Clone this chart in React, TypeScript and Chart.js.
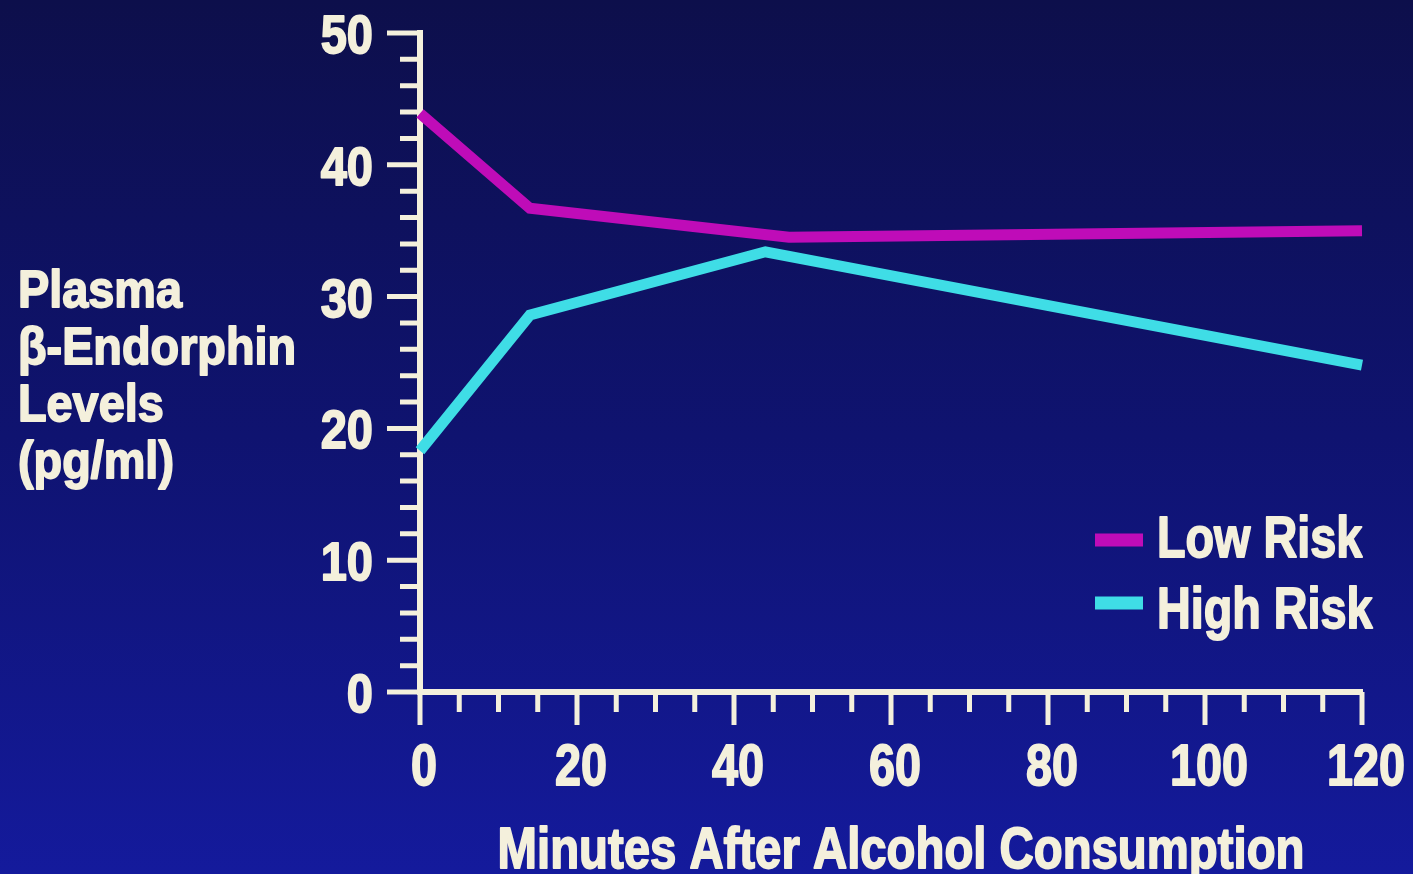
import { useEffect, useRef } from "react";
import { Chart, registerables } from "chart.js";

Chart.register(...registerables);

// Sampling times (minutes) and plasma β-endorphin levels (pg/ml)
const lowRiskMinutes = [0, 14, 47, 120];
const lowRiskLevels = [43.9, 36.7, 34.5, 35.0];
const highRiskMinutes = [0, 14, 44, 120];
const highRiskLevels = [18.3, 28.6, 33.4, 24.8];

const seriesLabels = ["Low Risk", "High Risk"];
const seriesColors = ["#bf0cb8", "#3fdde6"];

const yTitleLines = ["Plasma", "β-Endorphin", "Levels", "(pg/ml)"];
const xTitle = "Minutes After Alcohol Consumption";

const xMin = 0;
const xMax = 120;
const xMinorStep = 5;
const xMajorStep = 20;
const yMin = 0;
const yMax = 50;
const yMinorStep = 2;
const yMajorStep = 10;

const INK = "#f4f0dc";
const FONT = "'Liberation Sans', Arial, sans-serif";

const toPoints = (xs: number[], ys: number[]) => xs.map((x, i) => ({ x, y: ys[i] }));

// Heavy bold text squeezed horizontally, like a condensed black sans face
function condensedText(
  ctx: CanvasRenderingContext2D,
  text: string,
  x: number,
  y: number,
  size: number,
  squeeze: number,
  align: CanvasTextAlign,
  baseline: CanvasTextBaseline = "alphabetic"
) {
  ctx.save();
  ctx.font = `bold ${size}px ${FONT}`;
  ctx.fillStyle = INK;
  ctx.strokeStyle = INK;
  ctx.lineWidth = 1.8;
  ctx.lineJoin = "round";
  ctx.textAlign = align;
  ctx.textBaseline = baseline;
  ctx.translate(x, y);
  ctx.scale(squeeze, 1);
  ctx.fillText(text, 0, 0);
  ctx.strokeText(text, 0, 0);
  ctx.restore();
}

// Tick marks (short minor, long major) and the numeric labels of both axes
const axisDecor = {
  id: "axisDecor",
  beforeDatasetsDraw(chart: any) {
    const { ctx } = chart;
    const xs = chart.scales.x;
    const ys = chart.scales.y;
    ctx.save();
    ctx.strokeStyle = INK;
    ctx.lineWidth = 5;
    ctx.lineCap = "butt";
    ctx.beginPath();
    xs.ticks.forEach((t: any) => {
      const px = xs.getPixelForValue(t.value);
      const len = t.value % xMajorStep === 0 ? 33 : 20;
      ctx.moveTo(px, xs.top);
      ctx.lineTo(px, xs.top + len);
    });
    ys.ticks.forEach((t: any) => {
      const py = ys.getPixelForValue(t.value);
      const len = t.value % yMajorStep === 0 ? 33 : 20;
      ctx.moveTo(ys.right, py);
      ctx.lineTo(ys.right - len, py);
    });
    ctx.stroke();
    ctx.restore();

    xs.ticks.forEach((t: any) => {
      if (t.value % xMajorStep !== 0) return;
      const px = xs.getPixelForValue(t.value);
      condensedText(ctx, String(t.value), px + 4, xs.top + 93, 57, 0.82, "center");
    });
    ys.ticks.forEach((t: any) => {
      if (t.value % yMajorStep !== 0) return;
      const py = ys.getPixelForValue(t.value);
      condensedText(ctx, String(t.value), ys.right - 47, py + 20, 54, 0.87, "right");
    });
  },
};

// Axis titles: horizontal multi-line title at the left, centred title below
const axisTitles = {
  id: "axisTitles",
  afterDraw(chart: any) {
    const { ctx, chartArea } = chart;
    yTitleLines.forEach((line, i) => {
      condensedText(ctx, line, 18, 307 + i * 57, 52, 0.9, "left");
    });
    const cx = (chartArea.left + chartArea.right) / 2 + 10;
    condensedText(ctx, xTitle, cx, chartArea.bottom + 176, 57, 0.83, "center");
  },
};

// Legend in the lower right of the plot area
const insetLegend = {
  id: "insetLegend",
  afterDraw(chart: any) {
    const { ctx, chartArea } = chart;
    chart.data.datasets.forEach((ds: any, i: number) => {
      const base = chartArea.bottom - 135 + i * 71;
      const mid = base - 17 - i * 8;
      ctx.save();
      ctx.strokeStyle = ds.borderColor;
      ctx.lineWidth = 13;
      ctx.beginPath();
      ctx.moveTo(chartArea.right - 267, mid);
      ctx.lineTo(chartArea.right - 219, mid);
      ctx.stroke();
      ctx.restore();
      condensedText(ctx, ds.label, chartArea.right - 205, base, 57, 0.82, "left");
    });
  },
};

const noPadding = (s: any) => {
  s.paddingLeft = 0;
  s.paddingRight = 0;
  s.paddingTop = 0;
  s.paddingBottom = 0;
};

export default function App() {
  const canvasRef = useRef<HTMLCanvasElement | null>(null);

  useEffect(() => {
    const canvas = canvasRef.current;
    if (!canvas) return;
    const chart = new Chart(canvas, {
      type: "line",
      data: {
        datasets: [
          {
            label: seriesLabels[0],
            data: toPoints(lowRiskMinutes, lowRiskLevels),
            borderColor: seriesColors[0],
            borderWidth: 11,
            pointRadius: 0,
            borderJoinStyle: "miter",
            clip: false,
          },
          {
            label: seriesLabels[1],
            data: toPoints(highRiskMinutes, highRiskLevels),
            borderColor: seriesColors[1],
            borderWidth: 11,
            pointRadius: 0,
            borderJoinStyle: "miter",
            clip: false,
          },
        ],
      },
      options: {
        animation: false,
        responsive: true,
        maintainAspectRatio: false,
        layout: { padding: { left: 0, top: 33, right: 51, bottom: 0 } },
        plugins: { legend: { display: false }, tooltip: { enabled: false } },
        scales: {
          x: {
            type: "linear",
            min: xMin,
            max: xMax,
            afterFit: (s: any) => {
              s.height = 182;
              noPadding(s);
            },
            grid: { display: false, drawTicks: false },
            border: { display: true, color: INK, width: 6 },
            ticks: { stepSize: xMinorStep, autoSkip: false, display: false },
            title: { display: false, text: xTitle },
          },
          y: {
            min: yMin,
            max: yMax,
            afterFit: (s: any) => {
              s.width = 420;
              noPadding(s);
            },
            grid: { display: false, drawTicks: false },
            border: { display: true, color: INK, width: 6 },
            ticks: { stepSize: yMinorStep, autoSkip: false, display: false },
          },
        },
      },
      plugins: [axisDecor, axisTitles, insetLegend],
    });
    return () => chart.destroy();
  }, []);

  return (
    <div
      style={{
        position: "fixed",
        inset: 0,
        background: "linear-gradient(180deg, #0d0f4b 0%, #0f1370 50%, #141a9c 100%)",
      }}
    >
      <canvas ref={canvasRef} />
    </div>
  );
}
